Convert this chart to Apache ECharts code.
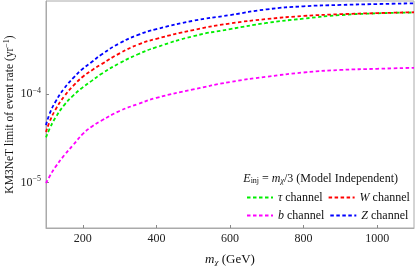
<!DOCTYPE html>
<html><head><meta charset="utf-8">
<script src="https://cdn.jsdelivr.net/npm/echarts@6/dist/echarts.min.js"></script>
<style>html,body{margin:0;padding:0;background:#fff}#c{width:415px;height:266px}</style>
</head><body><div id="c"></div>
<script>
const masses  = [100,110,125,150,175,200,225,250,300,350,400,500,600,700,800,900,1000,1100];
const tauRate = [3.24e-5,4.07e-5,5.37e-5,7.59e-5,9.77e-5,1.20e-4,1.43e-4,1.70e-4,2.26e-4,2.85e-4,3.43e-4,4.57e-4,5.50e-4,6.46e-4,7.24e-4,7.94e-4,8.32e-4,8.51e-4];
const wRate   = [3.72e-5,4.90e-5,6.61e-5,9.55e-5,1.26e-4,1.585e-4,1.88e-4,2.19e-4,2.92e-4,3.67e-4,4.27e-4,5.37e-4,6.38e-4,7.16e-4,7.76e-4,8.13e-4,8.36e-4,8.55e-4];
const bRate   = [9.77e-6,1.175e-5,1.48e-5,2.04e-5,2.69e-5,3.55e-5,4.32e-5,5.01e-5,6.46e-5,7.76e-5,9.12e-5,1.135e-4,1.38e-4,1.585e-4,1.77e-4,1.89e-4,1.95e-4,2.00e-4];
const zRate   = [4.47e-5,6.03e-5,8.13e-5,1.175e-4,1.55e-4,1.95e-4,2.34e-4,2.82e-4,3.80e-4,4.73e-4,5.50e-4,6.84e-4,7.94e-4,9.23e-4,1.00e-3,1.035e-3,1.06e-3,1.08e-3];
const xTicks = [200,400,600,800,1000];
const yTicks = [1e-5,1e-4];
const seriesNames = ['τ channel','W channel','b channel','Z channel'];
const legendRich = {'τ channel':'{i|τ} channel','W channel':'{i|W} channel','b channel':'{i|b} channel','Z channel':'{i|Z} channel'};
const colors = ['#00ee00','#ff0000','#ff00ff','#0000ff'];
const rates = [tauRate,wRate,bRate,zRate];

const FONT = 'Liberation Serif';
const chart = echarts.init(document.getElementById('c'), null, {renderer:'canvas'});
const mk = (arr) => masses.map((m,i)=>[m,arr[i]]);
chart.setOption({
  animation:false,
  backgroundColor:'#fff',
  textStyle:{fontFamily:FONT},
  grid:{left:46,right:1,top:1,bottom:38,show:true,borderColor:'#aaaaaa',borderWidth:1,containLabel:false,outerBoundsMode:'none'},
  title:{
    text:'{i|E}{sub|inj} = {i|m}{subi|χ}/3 (Model Independent)',
    right:12, top:167,
    textStyle:{fontFamily:FONT,fontSize:12,fontWeight:'normal',color:'#111',
      rich:{
        i:{fontFamily:FONT,fontSize:12,fontStyle:'italic',color:'#111'},
        sub:{fontFamily:FONT,fontSize:8,color:'#111',padding:[5,0,0,0]},
        subi:{fontFamily:FONT,fontSize:8,fontStyle:'italic',color:'#111',padding:[5,0,0,0]}
      }}
  },
  legend:{
    left:241, top:186, width:170, itemWidth:26, itemHeight:13, itemGap:5,
    data:seriesNames,
    itemStyle:{opacity:0},
    formatter:(n)=>legendRich[n],
    textStyle:{fontFamily:FONT,fontSize:12,color:'#111',lineHeight:13,
      rich:{i:{fontFamily:FONT,fontSize:12,fontStyle:'italic',color:'#111'}}}
  },
  xAxis:{
    type:'value', min:100, max:1100,
    name:'{i|m}{subi|χ} (GeV)', nameLocation:'middle', nameGap:24,
    nameTextStyle:{fontFamily:FONT,fontSize:13,color:'#111',
      rich:{i:{fontFamily:FONT,fontSize:13,fontStyle:'italic',color:'#111'},
            subi:{fontFamily:FONT,fontSize:9,fontStyle:'italic',color:'#111',padding:[6,0,0,0]}}},
    axisLine:{show:true,lineStyle:{color:'#aaaaaa',width:1}},
    axisTick:{show:true,inside:true,length:3,customValues:xTicks,lineStyle:{color:'#888'}},
    axisLabel:{customValues:xTicks,fontFamily:FONT,fontSize:12,color:'#222',margin:5,formatter:(v)=>String(v)},
    splitLine:{show:false}
  },
  yAxis:{
    type:'log', logBase:10, min:3.03e-6, max:1.148e-3,
    name:'KM3NeT limit of event rate (yr{sup|−1})', nameLocation:'middle', nameGap:29,
    nameMoveOverlap:false,
    nameTextStyle:{fontFamily:FONT,fontSize:11.5,color:'#111',
      rich:{sup:{fontFamily:FONT,fontSize:8,color:'#111',padding:[0,0,6,0]}}},
    axisLine:{show:true,lineStyle:{color:'#aaaaaa',width:1}},
    axisTick:{show:true,inside:true,length:3,customValues:yTicks,lineStyle:{color:'#888'}},
    axisLabel:{customValues:yTicks,fontFamily:FONT,fontSize:12,color:'#222',margin:5,
      formatter:(v)=>'10{sup|−'+Math.abs(Math.round(Math.log10(v)))+'}',
      rich:{sup:{fontFamily:FONT,fontSize:8,color:'#222',padding:[0,0,7,0]}}},
    splitLine:{show:false}, minorTick:{show:false}
  },
  series:seriesNames.map((n,k)=>({
    name:n, type:'line', data:mk(rates[k]), symbol:'none', smooth:0.5,
    color:colors[k],
    lineStyle:{color:colors[k],width:1.8,type:[3.5,2.5]},
    z: k===3?5:(k===2?2:(k===1?4:3))
  }))
});
</script></body></html>
